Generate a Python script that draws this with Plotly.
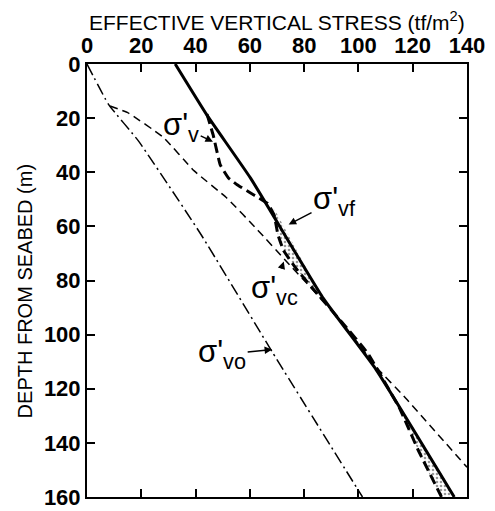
import plotly.graph_objects as go

# ---- data (stress in tf/m2, depth in m) ----
vf_stress = [32.5, 44.2, 60.2, 87.0, 106.5, 135.3]
vf_depth = [0, 18.9, 42.1, 86.5, 112.9, 160]

v_stress = [44.2, 46.5, 49.1, 52.1, 55.3, 61.3, 66.5, 69.0, 70.3, 72.4, 77.5, 84.8, 94.0, 103.5, 115.3, 121.8, 130.6]
v_depth = [18.5, 26.3, 37.3, 42.1, 44.6, 48.3, 51.5, 56.0, 62.9, 68.9, 76.2, 84.9, 95.5, 107.0, 127.5, 142.2, 160]

vc_stress = [8.5, 15.0, 28.0, 39.5, 51.5, 63.0, 73.5, 91.5, 107.0, 116.7, 140.0]
vc_depth = [15.5, 18.0, 27.0, 39.5, 49.5, 61.5, 73.0, 92.5, 112.5, 122.7, 149.0]

vo_stress = [0, 8.0, 19.0, 42.0, 68.0, 101.5]
vo_depth = [0, 15.0, 28.5, 63.0, 106.0, 160]

x_ticks = [0, 20, 40, 60, 80, 100, 120, 140]
y_ticks = [0, 20, 40, 60, 80, 100, 120, 140, 160]

labels = ["σ'<sub>v</sub>", "σ'<sub>vf</sub>", "σ'<sub>vc</sub>", "σ'<sub>vo</sub>"]
label_pos = [(34.7, 23.1), (91.2, 50.5), (69.0, 83.5), (49.8, 107.3)]
arrow_heads = [(46.4, 28.7), (74.3, 59.3), (72.5, 73.0), (68.2, 105.5)]

fill_from = 52

fig = go.Figure()

# stippled band between sigma'v and sigma'vf
fs = [s for s, d in zip(vf_stress, vf_depth) if d >= fill_from]
fd = [d for d in vf_depth if d >= fill_from]
bs = [s for s, d in zip(v_stress, v_depth) if d >= fill_from]
bd = [d for d in v_depth if d >= fill_from]
fig.add_trace(go.Scatter(
    x=[68.8] + fs + bs[::-1], y=[53.1] + fd + bd[::-1],
    mode="lines", line=dict(width=0, shape="spline", smoothing=0.3),
    fill="toself", fillcolor="rgba(0,0,0,0)",
    fillpattern=dict(shape=".", size=4, solidity=0.35, fgcolor="#333", bgcolor="white"),
    hoverinfo="skip", showlegend=False))

fig.add_trace(go.Scatter(x=vo_stress, y=vo_depth, mode="lines",
                         line=dict(color="black", width=1.5, dash="12px,4px,2px,4px", shape="spline", smoothing=0.4),
                         showlegend=False))
fig.add_trace(go.Scatter(x=vc_stress, y=vc_depth, mode="lines",
                         line=dict(color="black", width=1.5, dash="8px,5px", shape="spline", smoothing=0.4),
                         showlegend=False))
fig.add_trace(go.Scatter(x=v_stress, y=v_depth, mode="lines",
                         line=dict(color="black", width=3, dash="10px,5px", shape="spline", smoothing=0.3),
                         showlegend=False))
fig.add_trace(go.Scatter(x=vf_stress, y=vf_depth, mode="lines",
                         line=dict(color="black", width=3, shape="spline", smoothing=0.4),
                         showlegend=False))

for txt, (tx, ty), (hx, hy) in zip(labels, label_pos, arrow_heads):
    fig.add_annotation(x=hx, y=hy, ax=tx, ay=ty, axref="x", ayref="y", xref="x", yref="y",
                       text=txt, showarrow=True, arrowhead=2, arrowsize=1, arrowwidth=1.5,
                       arrowcolor="black",
                       font=dict(family="Liberation Sans, Arial", size=31, color="black"))

fig.add_annotation(xref="paper", yref="paper", x=0.5, y=1.1, xanchor="center", yanchor="middle",
                   text="EFFECTIVE VERTICAL STRESS (tf/m<sup>2</sup>)", showarrow=False,
                   font=dict(family="Liberation Sans, Arial", size=21, color="black"))
fig.add_annotation(xref="paper", yref="paper", x=-0.163, y=0.475, xanchor="center", yanchor="middle",
                   text="DEPTH FROM SEABED (m)", textangle=-90, showarrow=False,
                   font=dict(family="Liberation Sans, Arial", size=20, color="black"))

axis_common = dict(showgrid=False, zeroline=False, showline=True, linecolor="black", linewidth=2,
                   mirror="ticks", ticks="inside", ticklen=8, tickwidth=2, tickcolor="black",
                   ticklabeloverflow="allow", automargin=False,
                   tickfont=dict(family="Liberation Sans, Arial", size=22, color="black", weight="bold"))

fig.update_xaxes(range=[0, 140], side="top", tickvals=x_ticks, ticktext=[str(v) for v in x_ticks],
                 **axis_common)
fig.update_yaxes(range=[160, 0], tickvals=y_ticks, ticktext=[str(v) for v in y_ticks],
                 **axis_common)

fig.update_layout(width=495, height=511, margin=dict(l=87, r=28, t=64, b=14, autoexpand=False),
                  plot_bgcolor="white", paper_bgcolor="white")

fig.write_html("out.html")
